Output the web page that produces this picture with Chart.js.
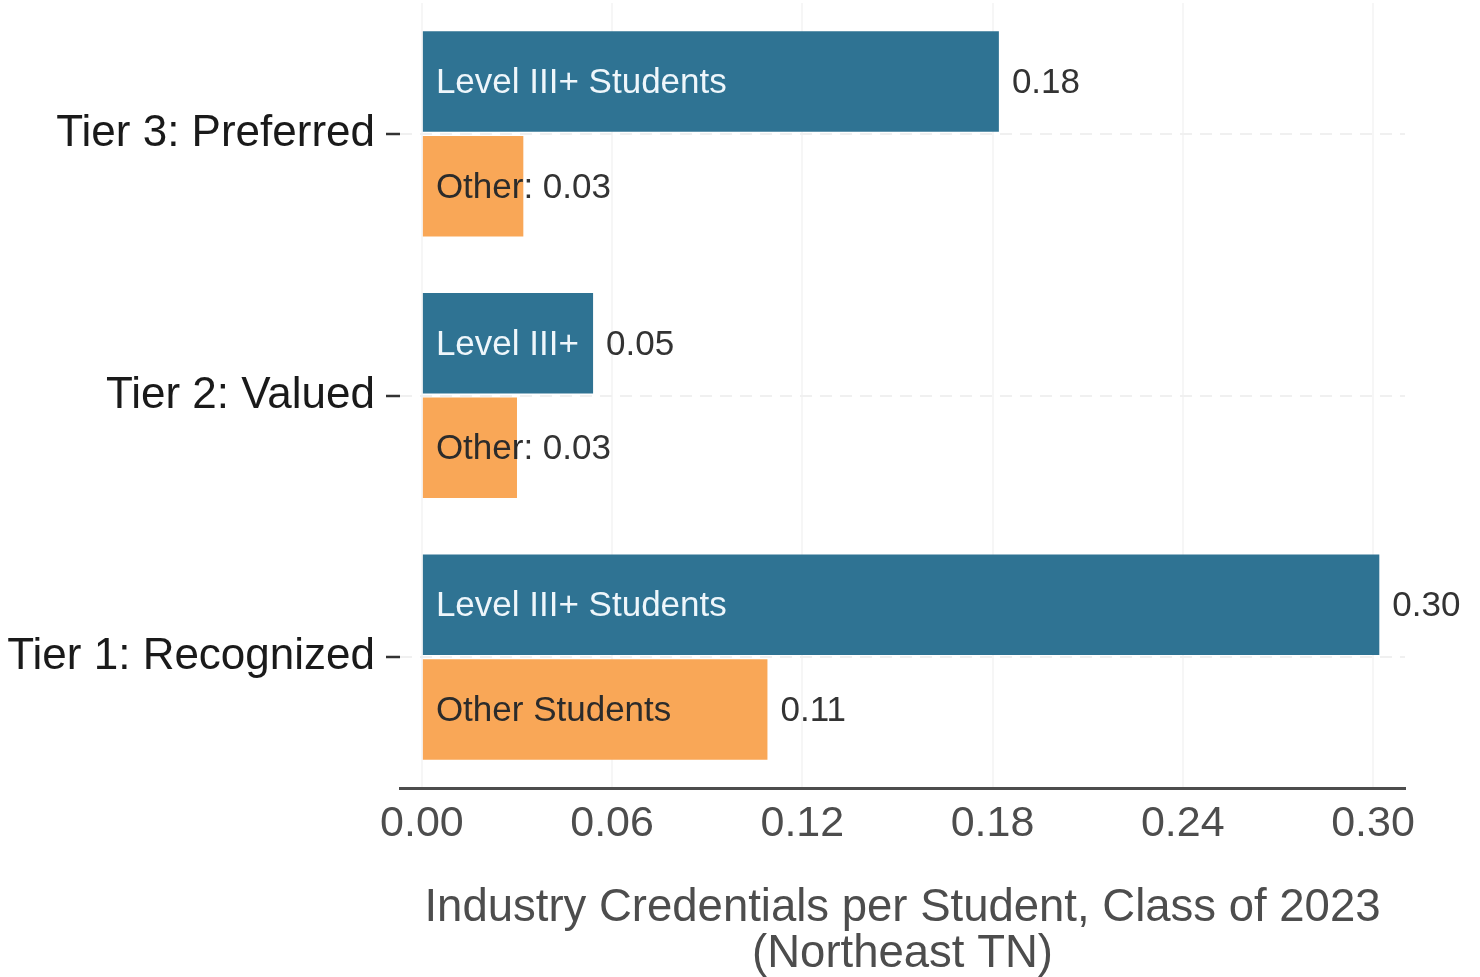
<!DOCTYPE html>
<html>
<head>
<meta charset="utf-8">
<script src="https://cdn.jsdelivr.net/npm/chart.js@4.4.1/dist/chart.umd.min.js"></script>
<style>
    html, body { margin: 0; padding: 0; background: #ffffff; }
    #wrap { width: 1480px; height: 977px; }
</style>
</head>
<body>
<div id="wrap"><canvas id="chart"></canvas></div>
<script>
/* global Chart */

// top to bottom
const TIERS = ["Tier 3: Preferred", "Tier 2: Valued", "Tier 1: Recognized"];
const LEVEL_VALUES = [0.182, 0.054, 0.302];
const OTHER_VALUES = [0.032, 0.030, 0.109];
const LEVEL_BAR_LABELS = ["Level III+ Students", "Level III+", "Level III+ Students"];
const OTHER_BAR_LABELS = ["Other", "Other", "Other Students"];
const X_TICKS = [0, 0.06, 0.12, 0.18, 0.24, 0.30];
const X_TITLE = ["Industry Credentials per Student, Class of 2023", "(Northeast TN)"];

const FONT = "'Liberation Sans', Arial, Helvetica, sans-serif",
    LEVEL_COLOR = "#2f7393",
    OTHER_COLOR = "#f9a757",
    AXIS_TEXT_COLOR = "#4d4d4d",
    VALUE_COLOR = "#333333";

Chart.defaults.font.family = FONT;

// writes the name inside each bar and the value after it;
// when the name does not fit, the value follows straight on
const barLabels = {
    id: "barLabels",
    afterDatasetsDraw(chart) {
        const ctx = chart.ctx;
        ctx.save();
        ctx.font = "35px " + FONT;
        ctx.textBaseline = "middle";
        ctx.textAlign = "left";
        chart.data.datasets.forEach((ds, di) => {
            chart.getDatasetMeta(di).data.forEach((bar, i) => {
                const value = ds.data[i].toFixed(2);
                const name = ds.barLabels[i];
                const left = bar.base + 13;
                const y = bar.y + 2;
                const w = ctx.measureText(name).width;
                ctx.fillStyle = ds.nameColor;
                ctx.fillText(name, left, y);
                ctx.fillStyle = VALUE_COLOR;
                if (left + w > bar.x) {
                    ctx.fillText(": " + value, left + w, y);
                } else {
                    ctx.fillText(value, bar.x + 13, y);
                }
            });
        });
        ctx.restore();
    },
};

new Chart(document.getElementById("chart"), {
    type: "bar",
    data: {
        labels: TIERS,
        datasets: [
            {
                label: "Level III+ Students",
                data: LEVEL_VALUES,
                backgroundColor: LEVEL_COLOR,
                borderWidth: 0,
                barLabels: LEVEL_BAR_LABELS,
                nameColor: "#eef6fb",
            },
            {
                label: "Other Students",
                data: OTHER_VALUES,
                backgroundColor: OTHER_COLOR,
                borderWidth: 0,
                barLabels: OTHER_BAR_LABELS,
                nameColor: "#2b2b2b",
            },
        ],
    },
    options: {
        indexAxis: "y",
        responsive: true,
        maintainAspectRatio: false,
        animation: false,
        categoryPercentage: 0.8,
        barPercentage: 0.96,
        layout: {
            padding: { top: 3, right: 75, left: 0, bottom: 0 },
        },
        plugins: {
            legend: { display: false },
            tooltip: { enabled: false },
        },
        scales: {
            x: {
                type: "linear",
                min: -0.0069,
                max: 0.3101,
                afterBuildTicks(scale) {
                    scale.ticks = X_TICKS.map(v => ({ value: v }));
                },
                afterFit(scale) {
                    scale.height = 189;
                },
                ticks: {
                    color: AXIS_TEXT_COLOR,
                    font: { size: 43 },
                    padding: 10,
                    callback: v => v.toFixed(2),
                },
                grid: {
                    color: "#f6f6f6",
                    lineWidth: 2,
                    drawTicks: false,
                },
                border: {
                    display: true,
                    color: "#4d4d4d",
                    width: 3,
                },
                title: {
                    display: true,
                    text: X_TITLE,
                    color: AXIS_TEXT_COLOR,
                    font: { size: 45.5, lineHeight: 1.0 },
                    padding: { top: 0, bottom: 0 },
                },
            },
            y: {
                type: "category",
                offset: true,
                afterFit(scale) {
                    scale.width = 400;
                    scale.paddingTop = 0;
                    scale.paddingBottom = 0;
                },
                ticks: {
                    color: "#1a1a1a",
                    font: { size: 44 },
                    padding: 11,
                },
                grid: {
                    offset: false,
                    color: "#f0f0f0",
                    lineWidth: 2,
                    drawTicks: true,
                    tickLength: 14,
                    tickColor: "#333333",
                    tickWidth: 2.5,
                },
                border: {
                    display: false,
                    dash: [12, 8],
                },
            },
        },
    },
    plugins: [barLabels],
});
</script>
</body>
</html>
